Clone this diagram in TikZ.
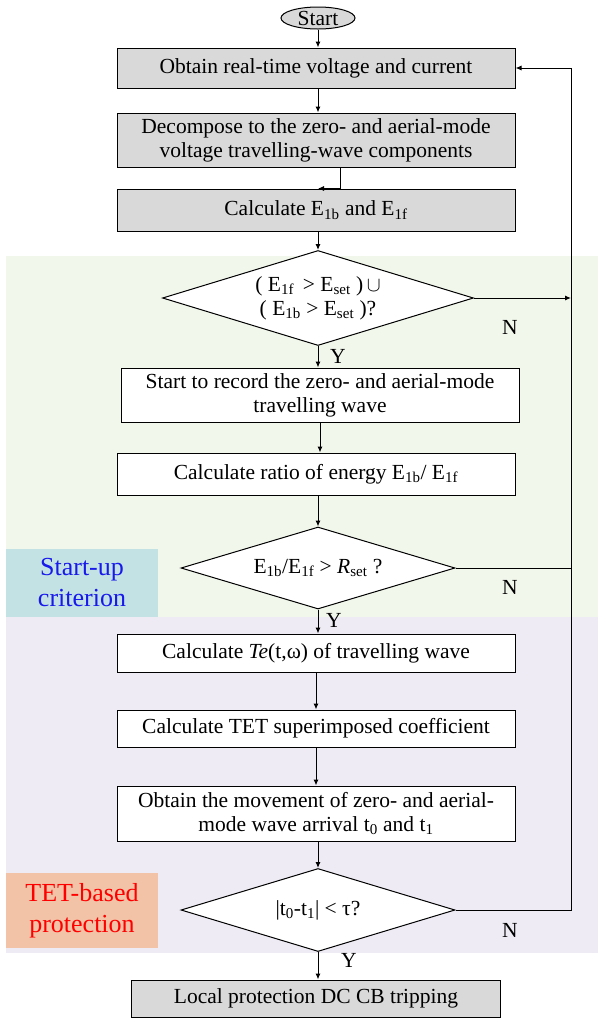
\documentclass[tikz,border=0pt]{standalone}
\usepackage{fontspec}
\setmainfont{Liberation Serif}
\usetikzlibrary{shapes.geometric, arrows.meta}

\newcommand{\boxfont}{\fontsize{21.5}{24}\selectfont}
\tikzstyle{every picture}+=[font=\boxfont]
\tikzstyle{procbox}=[draw, rectangle, line width=1pt, fill=white, inner sep=0pt,
  minimum width=398pt, align=center]
\tikzstyle{greybox}=[procbox, fill=boxgrey]
\tikzstyle{decision}=[draw, diamond, shape aspect=3.3, line width=1pt, fill=white,
  inner sep=0pt, align=center]
\tikzstyle{flow}=[line width=1pt, -{Latex[length=6pt,width=5pt]}]
\tikzstyle{plain}=[line width=1pt]
\tikzstyle{yn}=[inner sep=0pt]
\tikzstyle{stage}=[inner sep=0pt, align=center, font=\fontsize{26}{31}\selectfont]

\begin{document}
\begin{tikzpicture}[x=1pt, y=-1pt]
\definecolor{boxgrey}{RGB}{217,217,217}
\definecolor{startbg}{RGB}{242,247,236}
\definecolor{tetbg}{RGB}{239,235,244}
\definecolor{startlab}{RGB}{194,226,228}
\definecolor{tetlab}{RGB}{242,195,166}
\definecolor{labblue}{RGB}{25,25,235}
\useasboundingbox (0,0) rectangle (598,1021);

%% stage backgrounds
\fill[startbg] (6,256) rectangle (598,617);
\fill[tetbg] (6,617) rectangle (598,953);
\node[stage, fill=startlab, text=labblue, minimum width=152pt, minimum height=68pt]
  (startup) at (82,583) {Start-up\\criterion};
\node[stage, fill=tetlab, text=red, minimum width=152pt, minimum height=75pt]
  (tetprot) at (82,910.5) {TET-based\\protection};

%% steps
\node[draw, ellipse, line width=1pt, fill=boxgrey, inner sep=0pt,
  minimum width=74pt, minimum height=22pt] (start) at (318,18) {Start};
\node[greybox, minimum height=40pt] (obtain) at (316,68) {Obtain real-time voltage and current};
\node[greybox, minimum height=54pt] (decomp) at (316,140)
  {Decompose to the zero- and aerial-mode\\voltage travelling-wave components};
\node[greybox, minimum height=42pt] (energy) at (316,210)
  {Calculate E\textsubscript{1b} and E\textsubscript{1f}};
\node[decision, minimum width=311pt, minimum height=95pt] (check1) at (318,298)
  {( E\textsubscript{1f} \,> E\textsubscript{set} )$\,\cup$\\( E\textsubscript{1b} > E\textsubscript{set} )?};
\node[procbox, minimum height=54pt] (record) at (320,395)
  {Start to record the zero- and aerial-mode\\travelling wave};
\node[procbox, minimum height=42pt] (ratio) at (316,474)
  {Calculate ratio of energy E\textsubscript{1b}/ E\textsubscript{1f}};
\node[decision, minimum width=274pt, minimum height=82pt] (check2) at (318,568)
  {E\textsubscript{1b}/E\textsubscript{1f} > \textit{R}\textsubscript{set} ?};
\node[procbox, minimum height=38pt] (tecalc) at (316,653)
  {Calculate \textit{Te}(t,ω) of travelling wave};
\node[procbox, minimum height=37pt] (coeff) at (316,728.5)
  {Calculate TET superimposed coefficient};
\node[procbox, minimum height=55pt] (arrival) at (316,813.5)
  {Obtain the movement of zero- and aerial-\\mode wave arrival t\textsubscript{0} and t\textsubscript{1}};
\node[decision, minimum width=274pt, minimum height=83pt] (check3) at (318,910)
  {|t\textsubscript{0}-t\textsubscript{1}| < τ?};
\node[greybox, minimum width=369pt, minimum height=37pt] (trip) at (316,998.5)
  {Local protection DC CB tripping};

%% return line
\coordinate (ret) at (571,68);

%% connectors
\draw[flow] (start) -- (start |- obtain.north);
\draw[flow] (obtain.south -| start) -- (start |- decomp.north);
\draw[flow] ([xshift=22pt]decomp.south -| start) |- (energy.north -| start);
\draw[flow] (energy.south -| check1) -- (check1.north);
\draw[flow] (check1.south) -- (check1.south |- record.north);
\draw[flow] (record) -- (record |- ratio.north);
\draw[flow] (ratio.south -| check2) -- (check2.north);
\draw[flow] (check2.south) -- (check2.south |- tecalc.north);
\draw[flow] (tecalc) -- (tecalc |- coeff.north);
\draw[flow] (coeff) -- (coeff |- arrival.north);
\draw[flow] (arrival.south -| check3) -- (check3.north);
\draw[flow] (check3.south) -- (check3.south |- trip.north);
\draw[flow] (check1.east) -- (check1.east -| ret);
\draw[plain] (check2.east) -- (check2.east -| ret);
\draw[flow] (check3.east) -| (ret) -- (obtain.east);

%% Y / N
\node[yn] (y1) at (338,356) {Y};
\node[yn] (n1) at (510,327) {N};
\node[yn] (y2) at (334,620) {Y};
\node[yn] (n2) at (510,587) {N};
\node[yn] (y3) at (349,960) {Y};
\node[yn] (n3) at (510,930) {N};

\end{tikzpicture}
\end{document}
